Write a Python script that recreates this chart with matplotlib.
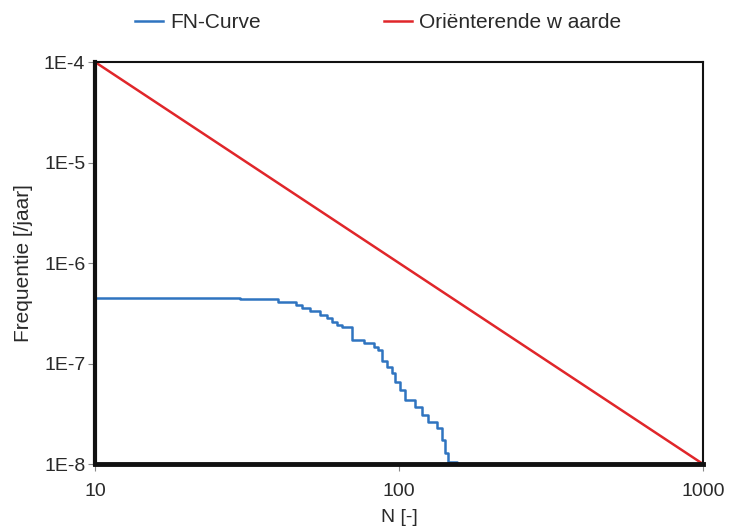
import matplotlib
matplotlib.use("Agg")
import matplotlib.pyplot as plt
import numpy as np

plt.rcParams['font.family'] = ['Liberation Sans', 'DejaVu Sans']

# FN-curve (step data, value holds from N[i] to N[i+1])
fn_N = [10, 30, 40, 46, 48, 51, 55, 58, 60, 62.5, 65, 70, 77, 83, 85, 88, 91,
        95, 97, 101, 105, 113, 119, 125, 133, 138, 142, 145, 155, 160]
fn_F = [4.52e-7, 4.38e-7, 4.06e-7, 3.82e-7, 3.59e-7, 3.33e-7, 3.04e-7, 2.82e-7,
        2.61e-7, 2.42e-7, 2.32e-7, 1.71e-7, 1.59e-7, 1.47e-7, 1.36e-7, 1.05e-7,
        9.3e-8, 7.98e-8, 6.59e-8, 5.45e-8, 4.33e-8, 3.72e-8, 3.07e-8, 2.64e-8,
        2.27e-8, 1.73e-8, 1.28e-8, 1.05e-8, 9.0e-9, 9.0e-9]

# Oriënterende waarde
ref_N = [10, 1000]
ref_F = [1e-4, 1e-8]

x_ticks = [10, 100, 1000]
x_labels = ['10', '100', '1000']
y_ticks = [1e-8, 1e-7, 1e-6, 1e-5, 1e-4]
y_labels = ['1E-8', '1E-7', '1E-6', '1E-5', '1E-4']

fig = plt.figure(figsize=(7.29, 5.30), dpi=100)
ax = fig.add_axes([0.1303, 0.1245, 0.834, 0.7585])

l1, = ax.plot(fn_N, fn_F, drawstyle='steps-post', color='#2f74c0', lw=1.8,
              label='FN-Curve')
l2, = ax.plot(ref_N, ref_F, color='#e0262a', lw=1.8,
              label='Oriënterende w aarde')

ax.set_xscale('log')
ax.set_yscale('log')
ax.set_xlim(10, 1000)
ax.set_ylim(1e-8, 1e-4)
ax.set_xticks(x_ticks)
ax.set_xticklabels(x_labels)
ax.set_yticks(y_ticks)
ax.set_yticklabels(y_labels)
ax.minorticks_off()

tc = '#2a2a2a'
ax.tick_params(axis='both', which='major', length=5, width=0.8, color='#888888',
               labelsize=14, labelcolor=tc, direction='out', pad=2)
ax.tick_params(axis='x', pad=9)

ax.spines['left'].set_linewidth(3.0)
ax.spines['bottom'].set_linewidth(3.5)
ax.spines['top'].set_linewidth(1.5)
ax.spines['right'].set_linewidth(1.5)
for s in ax.spines.values():
    s.set_color('#111111')

ax.set_xlabel('N [-]', fontsize=14, color=tc, labelpad=6)
ax.set_ylabel('Frequentie [/jaar]', fontsize=15, color=tc, labelpad=8)

leg = fig.legend(handles=[l1, l2], loc='center left',
                 bbox_to_anchor=(135 / 729, 1 - 23 / 530), ncol=2,
                 frameon=False, fontsize=15, handlelength=1.35,
                 columnspacing=5.9, handletextpad=0.35,
                 borderpad=0, borderaxespad=0)
for t in leg.get_texts():
    t.set_color(tc)

fig.savefig('out.png', dpi=100)
